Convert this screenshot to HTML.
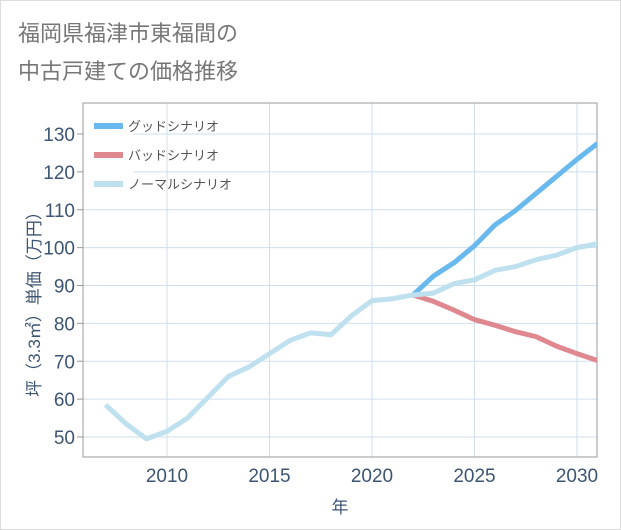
<!DOCTYPE html>
<html><head><meta charset="utf-8"><style>
body{margin:0;background:#fff}
#wrap{position:relative;width:621px;height:530px;font-family:"Liberation Sans","Noto Sans CJK JP",sans-serif}
</style></head><body>
<div id="wrap">
<svg id="chart" width="621" height="530" style="position:absolute;left:0;top:0"></svg>
</div>
<script>
const years=[2007,2008,2009,2010,2011,2012,2013,2014,2015,2016,2017,2018,2019,2020,2021,2022,2023,2024,2025,2026,2027,2028,2029,2030,2031];
const normal=[58.5,53.5,49.5,51.5,55,60.5,66,68.5,72,75.5,77.5,77,82,86,86.5,87.5,88,90.5,91.5,94,95,96.8,98,100,101];
const goodYears=[2022,2023,2024,2025,2026,2027,2028,2029,2030,2031];
const good=[87.5,92.5,96,100.5,106,109.8,114.3,118.8,123.3,127.5];
const bad=[87.5,85.8,83.5,81,79.5,77.8,76.5,74,72,70.2];
const yTicks=[50,60,70,80,90,100,110,120,130];
const xTicks=[2010,2015,2020,2025,2030];
const NS="http://www.w3.org/2000/svg",svg=document.getElementById('chart');
const L=83,R=597,T=103,B=457;
const x=v=>167+(v-2010)*20.5, y=v=>437-(v-50)*3.7875;
function mk(t,a,p){const e=document.createElementNS(NS,t);for(const k in a)e.setAttribute(k,a[k]);(p||svg).appendChild(e);return e;}
let bg=mk('rect',{x:0.5,y:0.5,width:620,height:529,fill:'#fff',stroke:'#ddd'});


let t1=mk('text',{x:18,y:41,'font-size':22,fill:'#777'});t1.textContent='福岡県福津市東福間の';


let t2=mk('text',{x:18,y:79,'font-size':22,fill:'#777'});t2.textContent='中古戸建ての価格推移';


yTicks.forEach(v=>{let g=mk('line',{x1:L,x2:R,y1:y(v),y2:y(v),stroke:'#cfdfee'});


let tk=mk('line',{x1:L-6,x2:L,y1:y(v),y2:y(v),stroke:'#999'});


let tx=mk('text',{x:L-8,y:y(v)+7,'font-size':19,fill:'#3d5573','text-anchor':'end'});tx.textContent=v;

});
xTicks.forEach(v=>{let g=mk('line',{x1:x(v),x2:x(v),y1:T,y2:B,stroke:'#cfdfee'});


let tx=mk('text',{x:x(v),y:B+25,'font-size':19,fill:'#3d5573','text-anchor':'middle'});tx.textContent=v;

});
let fr=mk('rect',{x:L,y:T,width:R-L,height:B-T,fill:'none',stroke:'#999'});


function line(xs,vs,c,n){let p=mk('polyline',{points:xs.map((a,i)=>x(a)+','+y(vs[i])).join(' '),fill:'none',stroke:c,'stroke-width':5,'stroke-linejoin':'round'});

}
let cp=mk('clipPath',{id:'cp'});mk('rect',{x:L,y:T,width:R-L,height:B-T},cp);
line(goodYears,good,'#6ab9ee','good-scenario-line');
line(goodYears,bad,'#e08890','bad-scenario-line');
line(years,normal,'#bfe0ee','normal-scenario-line');
svg.querySelectorAll('polyline').forEach(p=>p.setAttribute('clip-path','url(#cp)'));
let lb=mk('rect',{x:84,y:110,width:49,height:90,fill:'#fff'});


[['グッドシナリオ','#6ab9ee'],['バッドシナリオ','#e08890'],['ノーマルシナリオ','#bfe0ee']].forEach((d,i)=>{
let yy=126+i*29;let s=mk('line',{x1:94,x2:123,y1:yy,y2:yy,stroke:d[1],'stroke-width':6});


let tx=mk('text',{x:128,y:yy+5,'font-size':13,fill:'#555'});tx.textContent=d[0];

});
let xl=mk('text',{x:340,y:513,'font-size':17,fill:'#3d5573','text-anchor':'middle'});xl.textContent='年';


let yl=mk('text',{x:0,y:0,'font-size':17,fill:'#3d5573','text-anchor':'middle',transform:'translate(40,300) rotate(-90)'});yl.textContent='坪（3.3㎡）単価（万円）';


</script>
</body></html>
